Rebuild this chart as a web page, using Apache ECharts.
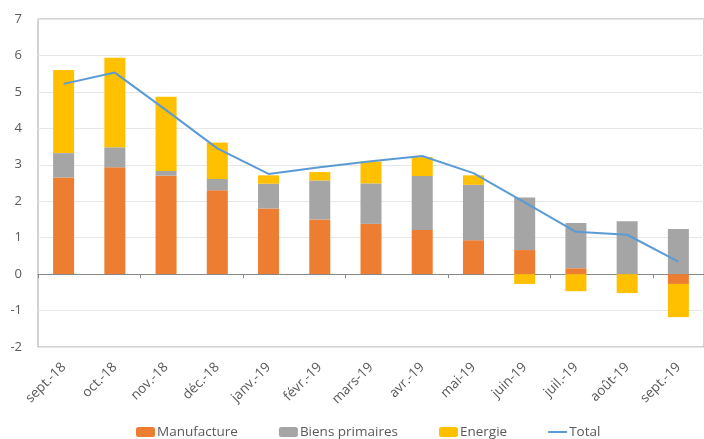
<!DOCTYPE html>
<html>
<head>
<meta charset="utf-8">
<script src="https://cdn.jsdelivr.net/npm/echarts@6/dist/echarts.min.js"></script>
<style>html,body{margin:0;padding:0;background:#fff;}#c{width:704px;height:439px;}</style>
</head>
<body>
<div id="c"></div>
<script>
var categories = ['sept.-18','oct.-18','nov.-18','déc.-18','janv.-19','févr.-19','mars-19','avr.-19','mai-19','juin-19','juil.-19','août-19','sept.-19'];
var manufacture = [2.65, 2.93, 2.70, 2.30, 1.80, 1.50, 1.38, 1.21, 0.93, 0.66, 0.16, 0.00, -0.27];
var biensPrimaires = [0.67, 0.55, 0.13, 0.31, 0.68, 1.07, 1.11, 1.48, 1.52, 1.44, 1.24, 1.45, 1.24];
var energie = [2.28, 2.46, 2.04, 1.00, 0.23, 0.23, 0.60, 0.52, 0.26, -0.27, -0.47, -0.52, -0.91];
var total = [5.22, 5.53, 4.50, 3.45, 2.75, 2.93, 3.10, 3.24, 2.77, 1.97, 1.16, 1.08, 0.34];
var yTicks = {min: -2, max: 7, interval: 1};

var chart = echarts.init(document.getElementById('c'), null, {renderer: 'canvas'});
var font = 'Open Sans';
var txt = '#595959';
chart.setOption({
  animation: false,
  grid: {left: 38, top: 19, right: -13, bottom: 92, show: true, borderColor: '#a6a6a6', borderWidth: 1, containLabel: false},
  legend: {
    left: 131, top: 420,
    itemWidth: 19, itemHeight: 10, itemGap: 41,
    textStyle: {fontFamily: font, fontSize: 13.5, color: txt, padding: [0,0,0,-3]},
    data: ['Manufacture', 'Biens primaires', 'Energie',
      {name: 'Total', icon: 'path://M0,0 L19,0 L19,2 L0,2 Z', itemStyle: {color: '#5b9bd5'}}]
  },
  xAxis: [
    {type: 'category', data: categories, axisLine: {onZero: true, lineStyle: {color: '#898989', width: 1}},
     axisTick: {show: true, length: 4, lineStyle: {color: '#898989'}}, axisLabel: {show: false}},
    {type: 'category', data: categories, position: 'bottom', axisLine: {show: false, onZero: false},
     axisTick: {show: false},
     axisLabel: {rotate: 45, margin: 18, fontFamily: font, fontSize: 13.5, color: txt, interval: 0}}
  ],
  yAxis: {type: 'value', min: yTicks.min, max: yTicks.max, interval: yTicks.interval,
    axisLine: {show: false}, axisTick: {show: false},
    axisLabel: {fontFamily: font, fontSize: 13, color: txt, margin: 16},
    splitLine: {lineStyle: {color: '#e6e6e6', width: 1}}},
  series: [
    {name: 'Manufacture', type: 'bar', stack: 's', data: manufacture, barWidth: 21, itemStyle: {color: '#ed7d31'}},
    {name: 'Biens primaires', type: 'bar', stack: 's', data: biensPrimaires, barWidth: 21, itemStyle: {color: '#a5a5a5'}},
    {name: 'Energie', type: 'bar', stack: 's', data: energie, barWidth: 21, itemStyle: {color: '#ffc000'}},
    {name: 'Total', type: 'line', data: total, symbol: 'none', z: 5, lineStyle: {color: '#5b9bd5', width: 2}, itemStyle: {color: '#5b9bd5'}}
  ]
});
</script>
</body>
</html>
